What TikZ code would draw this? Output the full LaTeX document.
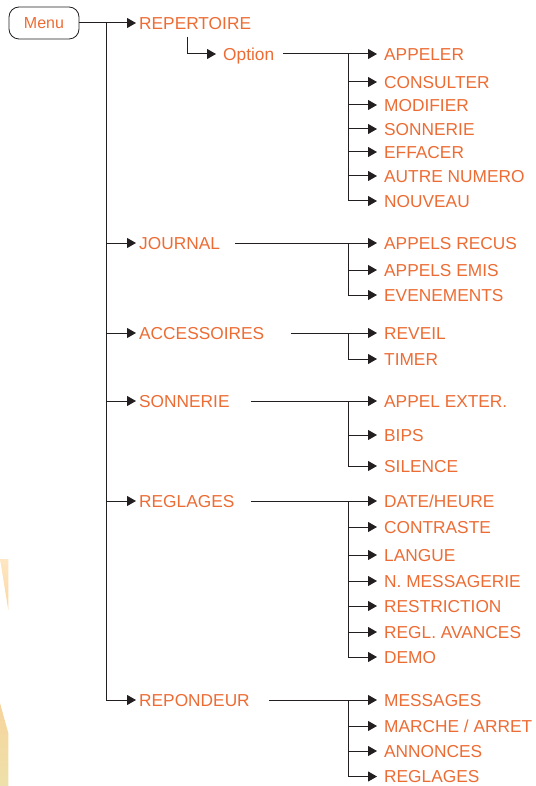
\documentclass[tikz,border=0pt]{standalone}
\usepackage{fontspec}
\setmainfont{Liberation Sans}
\usetikzlibrary{arrows.meta,positioning}
\definecolor{menuorange}{RGB}{236,108,52}
\definecolor{linegray}{RGB}{35,31,32}

\begin{document}
\begin{tikzpicture}[x=1pt,y=-1pt]
  \tikzstyle{menubox} = [draw=linegray, line width=0.8pt, rounded corners=10pt, minimum width=70pt, minimum height=32pt, text=menuorange, font=\fontsize{16pt}{18pt}\selectfont]
  \tikzstyle{entry} = [anchor=west, inner xsep=3pt, inner ysep=0pt, text height=12.4pt, text depth=0pt, text=menuorange, font=\fontsize{17.3pt}{20pt}\selectfont]
  \tikzstyle{subentry} = [entry, inner xsep=7pt]
  \tikzstyle{link} = [draw=linegray, line width=1pt]
  \tikzstyle{arrow} = [link, -{Triangle[length=9pt,width=10pt]}]

  \useasboundingbox (0,0) rectangle (535,786);

  % page decoration on the left
  \shade [top color={rgb,255:red,254;green,231;blue,196}, bottom color={rgb,255:red,252;green,214;blue,158}] (0,559) -- (8.3,559) -- (8.3,610) -- cycle;
  \shade [top color={rgb,255:red,247;green,212;blue,156}, bottom color={rgb,255:red,238;green,224;blue,170}] (0,703) -- (8.3,733) -- (8.3,786) -- (0,786) -- cycle;

  \node (menu) [menubox] at (44,23) {Menu};

  % first level
  \node (repert) [entry] at (136,23) {REPERTOIRE};
  \node (opt) [subentry] at (216,54) {Option};
  \node (journ) [entry] at (136,243) {JOURNAL};
  \node (access) [entry] at (136,333) {ACCESSOIRES};
  \node (sonn) [entry] at (136,401) {SONNERIE};
  \node (regl) [entry] at (136,501) {REGLAGES};
  \node (repond) [entry] at (136,700) {REPONDEUR};

  % second level
  \node (app) [subentry] at (377,54) {APPELER};
  \node (cns) [subentry] at (377,82) {CONSULTER};
  \node (mdf) [subentry] at (377,105) {MODIFIER};
  \node (snr) [subentry] at (377,129) {SONNERIE};
  \node (eff) [subentry] at (377,152) {EFFACER};
  \node (aut) [subentry] at (377,176) {AUTRE NUMERO};
  \node (nou) [subentry] at (377,201) {NOUVEAU};

  \node (rcv) [subentry] at (377,243) {APPELS RECUS};
  \node (emi) [subentry] at (377,270) {APPELS EMIS};
  \node (evt) [subentry] at (377,295) {EVENEMENTS};

  \node (rev) [subentry] at (377,333) {REVEIL};
  \node (tim) [subentry] at (377,359) {TIMER};

  \node (ext) [subentry] at (377,401) {APPEL EXTER.};
  \node (bip) [subentry] at (377,435) {BIPS};
  \node (sil) [subentry] at (377,466) {SILENCE};

  \node (dat) [subentry] at (377,501) {DATE/HEURE};
  \node (ctr) [subentry] at (377,527) {CONTRASTE};
  \node (lng) [subentry] at (377,555) {LANGUE};
  \node (msg) [subentry] at (377,581) {N. MESSAGERIE};
  \node (rst) [subentry] at (377,606) {RESTRICTION};
  \node (avc) [subentry] at (377,632) {REGL. AVANCES};
  \node (dem) [subentry] at (377,657) {DEMO};

  \node (mss) [subentry] at (377,700) {MESSAGES};
  \node (mar) [subentry] at (377,726) {MARCHE / ARRET};
  \node (ann) [subentry] at (377,751) {ANNONCES};
  \node (rgl) [subentry] at (377,776.5) {REGLAGES};

  % branch points and line starts
  \coordinate (mx) at (106,23);
  \coordinate (jx) at (348.5,0);
  \coordinate (optbend) at (187,37);
  \coordinate (optout) at (283,54);
  \coordinate (journout) at (235,243);
  \coordinate (accessout) at (291,333);
  \coordinate (sonnout) at (251,401);
  \coordinate (reglout) at (251,501);
  \coordinate (repondout) at (269,700);

  % main branch
  \draw [arrow] (menu) -- (repert);
  \draw [arrow] (mx) |- (repond.west);
  \foreach \n in {journ,access,sonn,regl}
    \draw [arrow] (mx |- \n) -- (\n.west);

  % repertoire
  \draw [arrow] (optbend) |- (opt.west);
  \draw [arrow] (optout) -- (app.west);
  \draw [arrow] (jx |- app) |- (nou.west);
  \foreach \n in {cns,mdf,snr,eff,aut}
    \draw [arrow] (jx |- \n) -- (\n.west);

  % journal
  \draw [arrow] (journout) -- (rcv.west);
  \draw [arrow] (jx |- rcv) |- (evt.west);
  \draw [arrow] (jx |- emi) -- (emi.west);

  % accessoires
  \draw [arrow] (accessout) -- (rev.west);
  \draw [arrow] (jx |- rev) |- (tim.west);

  % sonnerie
  \draw [arrow] (sonnout) -- (ext.west);
  \draw [arrow] (jx |- ext) |- (sil.west);
  \draw [arrow] (jx |- bip) -- (bip.west);

  % reglages
  \draw [arrow] (reglout) -- (dat.west);
  \draw [arrow] (jx |- dat) |- (dem.west);
  \foreach \n in {ctr,lng,msg,rst,avc}
    \draw [arrow] (jx |- \n) -- (\n.west);

  % repondeur
  \draw [arrow] (repondout) -- (mss.west);
  \draw [arrow] (jx |- mss) |- (rgl.west);
  \foreach \n in {mar,ann}
    \draw [arrow] (jx |- \n) -- (\n.west);
\end{tikzpicture}
\end{document}
